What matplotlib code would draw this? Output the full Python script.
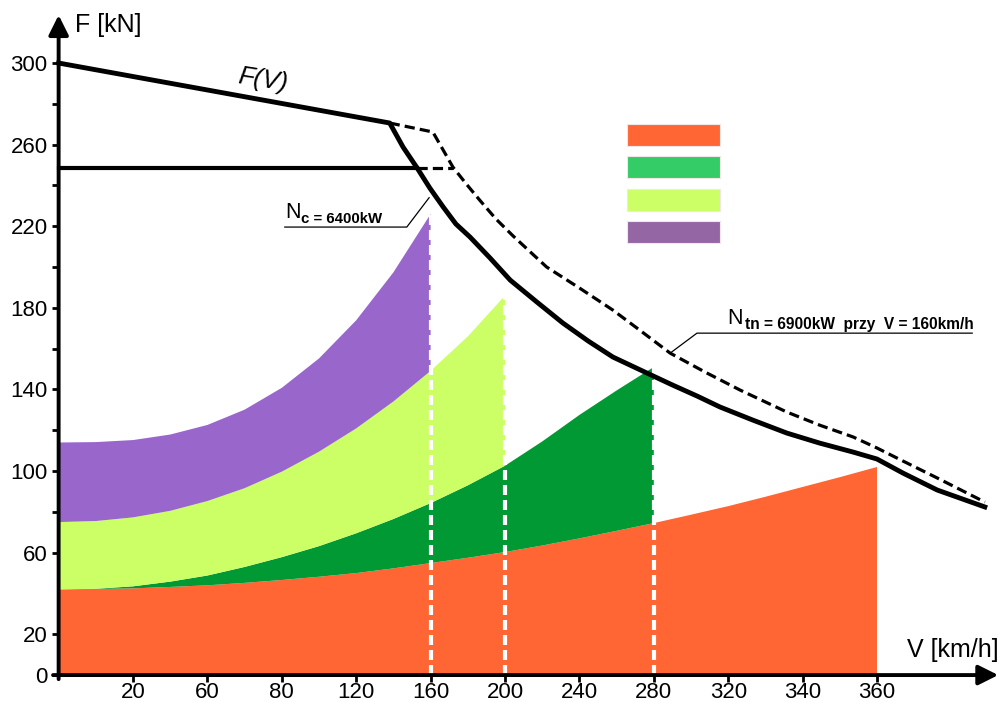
import numpy as np
import matplotlib
matplotlib.use('Agg')
import matplotlib.pyplot as plt
from matplotlib.patches import Rectangle

plt.rcParams['font.family'] = ['Liberation Sans', 'DejaVu Sans']

# V axis: ticks are evenly spaced slots, labels are not evenly spaced
v_slots = [1, 2, 3, 4, 5, 6, 7, 8, 9, 10, 11]
v_labels = ['20', '60', '80', '120', '160', '200', '240', '280', '320', '340', '360']
f_ticks = [0, 20, 60, 100, 140, 180, 220, 260, 300]
f_minor = [80, 120, 160, 200, 240, 280]

# traction characteristic F(V) (solid) and N_tn variant (dashed), x in V-slot units
fv_x = [0, 4.45, 4.63, 4.82, 4.99, 5.17, 5.34, 5.53, 5.80, 6.07, 6.43, 6.78, 7.12, 7.45,
        7.91, 8.25, 8.58, 8.89, 9.33, 9.79, 10.23, 10.68, 11.0, 11.35, 11.81, 12.45]
fv_f = [300, 270.6, 258.8, 248.5, 238.7, 229.4, 221.1, 214.7, 204.4, 193.6, 182.8, 172.5,
        163.7, 155.9, 148.0, 142.2, 136.8, 131.4, 125.0, 118.6, 113.7, 109.3, 105.9, 99.0,
        90.7, 82.4]
ftn_x = [4.45, 5.03, 5.30, 5.48, 5.66, 5.88, 6.11, 6.34, 6.56, 7.01, 7.45, 7.81, 8.22,
         8.69, 9.16, 9.79, 10.23, 10.68, 11.0, 11.35, 11.81, 12.45]
ftn_f = [270.6, 266.2, 249.0, 240.7, 232.8, 223.5, 215.2, 207.4, 200.0, 189.5, 178.9,
         169.1, 157.8, 148.5, 139.7, 128.9, 122.5, 116.7, 111.3, 104.9, 96.6, 84.8]
adhesion_f = 248.5
adhesion_end = 4.82
adhesion_dash_end = 5.30

# resistance bands (upper edges)
orange_x = [0, 0.5, 1, 1.5, 2, 2.5, 3, 3.5, 4, 4.5, 5, 5.5, 6, 6.5, 7, 7.5, 8, 8.5, 9, 9.5,
            10, 10.5, 11]
orange_top = [42, 42.2, 42.5, 43.2, 44, 45.2, 46.6, 48.2, 50, 52.3, 54.9, 57.5, 60.3, 63.5,
              67, 70.7, 74.5, 78.6, 82.8, 87.4, 92.2, 97, 102]
green_x = [0, 0.5, 1, 1.5, 2, 2.5, 3, 3.5, 4, 4.5, 5, 5.5, 6, 6.5, 7, 7.5, 8]
green_top = [42, 42.3, 43.5, 45.8, 48.8, 53, 57.8, 63.2, 69.5, 76.5, 84.3, 93, 102.6,
             114.5, 127.5, 139.5, 151]
lime_x = [0, 0.5, 1, 1.5, 2, 2.5, 3, 3.5, 4, 4.5, 5, 5.5, 6]
lime_top = [75, 75.5, 77.3, 80.5, 85.3, 91.6, 99.7, 109.5, 120.9, 134.1, 149.1, 166, 186]
purple_x = [0, 0.5, 1, 1.5, 2, 2.5, 3, 3.5, 4, 4.5, 5]
purple_top = [114, 114.2, 115.2, 117.9, 122.6, 130.1, 140.8, 155.2, 173.9, 197.4, 226]

c_orange = '#FF6633'
c_green = '#009933'
c_lime = '#CCFF66'
c_purple = '#9966CC'
legend_colors = ['#FF6633', '#33CC66', '#CCFF66', '#9467A4']

fig = plt.figure(figsize=(10.01, 7.02), dpi=100)
ax = fig.add_axes([0, 0, 1, 1])
ax.set_xlim(-0.788, 12.667)
ax.set_ylim(-13.2, 330.9)


def band(xl, yl, xh, yh, color):
    xs = np.r_[xh, np.asarray(xl)[::-1]]
    ys = np.r_[yh, np.asarray(yl)[::-1]]
    ax.fill(xs, ys, color=color, lw=0, zorder=1)


def upto(xs, ys, xmax):
    pts = [(x, y) for x, y in zip(xs, ys) if x <= xmax]
    return [p[0] for p in pts], [p[1] for p in pts]


band(orange_x, np.zeros(len(orange_x)), orange_x, orange_top, c_orange)
band(*upto(orange_x, orange_top, 8), green_x, green_top, c_green)
band(*upto(green_x, green_top, 6), lime_x, lime_top, c_lime)
band(*upto(lime_x, lime_top, 5), purple_x, purple_top, c_purple)

for x, top in [(5, purple_top[-1]), (6, lime_top[-1]), (8, green_top[-1])]:
    ax.plot([x, x], [0, top], color='white', lw=3, dashes=(2.4, 1.2), zorder=2)

ax.plot(fv_x, fv_f, color='black', lw=3.5, solid_joinstyle='round', zorder=4)
ax.plot(ftn_x, ftn_f, color='black', lw=2.3, dashes=(3.2, 1.6), zorder=3)
ax.plot([0, adhesion_end], [adhesion_f, adhesion_f], color='black', lw=3.0, zorder=4)
ax.plot([adhesion_end, adhesion_dash_end], [adhesion_f, adhesion_f], color='black', lw=2.3,
        dashes=(3.2, 1.6), zorder=3)

# axes with arrows
for s in ax.spines.values():
    s.set_visible(False)
ax.spines['left'].set_position(('data', 0))
ax.spines['bottom'].set_position(('data', 0))
arrow = dict(arrowstyle='-|>,head_length=0.8,head_width=0.4', lw=2.8, color='black',
             shrinkA=0, shrinkB=0, mutation_scale=15)
ax.annotate('', xy=(12.63, 0), xytext=(-0.075, 0), arrowprops=arrow, zorder=6)
ax.annotate('', xy=(0, 323.5), xytext=(0, -2), arrowprops=arrow, zorder=6)

ax.set_xticks(v_slots, v_labels)
ax.set_yticks(f_ticks)
ax.set_yticks(f_minor, minor=True)
ax.tick_params(axis='both', which='both', direction='out', length=5, width=2,
               color='black', labelsize=16, pad=3)
ax.tick_params(axis='x', pad=0)

ax.text(0.22, 318.6, 'F [kN]', fontsize=18, ha='left', va='center')
ax.text(12.63, 12.3, 'V [km/h]', fontsize=18, ha='right', va='center')
ax.text(2.74, 291.5, 'F(V)', fontsize=18.5, style='italic', rotation=-9, ha='center', va='center')

# N_c annotation
ax.plot([3.04, 4.68, 4.98], [219.6, 219.6, 234.0], color='black', lw=0.9, zorder=5)
ax.text(3.04, 224.0, 'N', fontsize=15.5, ha='left', va='baseline')
ax.text(3.26, 221.6, 'c = 6400kW', fontsize=10.8, fontweight='bold', ha='left', va='baseline')

# N_tn annotation
ax.plot([8.22, 8.58, 12.28], [157.8, 167.6, 167.6], color='black', lw=0.9, zorder=5)
ax.text(8.99, 172.0, 'N', fontsize=15.5, ha='left', va='baseline')
ax.text(9.22, 169.4, 'tn = 6900kW  przy  V = 160km/h', fontsize=11.2, fontweight='bold',
        ha='left', va='baseline')

# colour key boxes (no labels)
for i, c in enumerate(legend_colors):
    top = 124 + i * 32.3
    fig.add_artist(Rectangle((627 / 1001, 1 - (top + 22) / 702), 93 / 1001, 22 / 702,
                             transform=fig.transFigure, facecolor=c,
                             edgecolor='#f2e6e6', lw=0.8))

fig.savefig('out.png', dpi=100)
